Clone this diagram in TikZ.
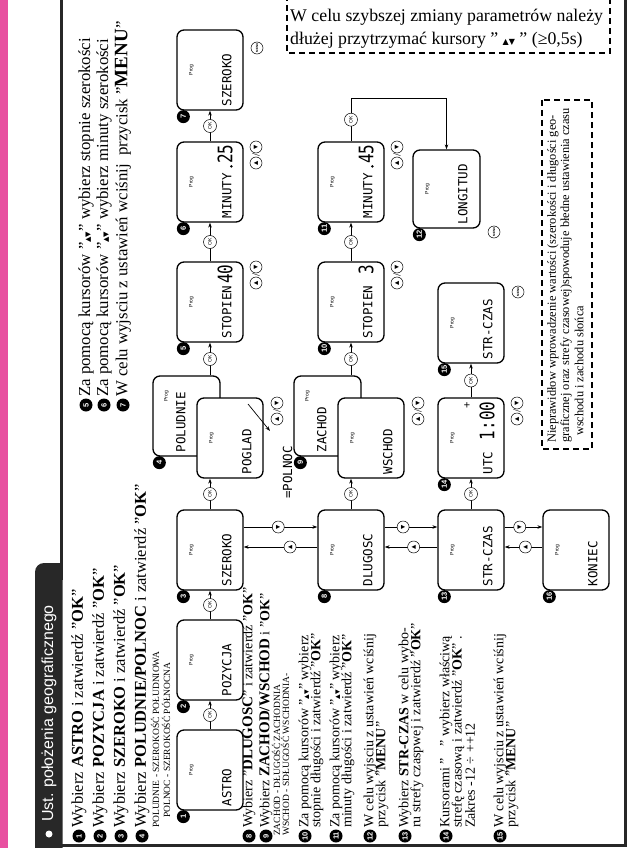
\documentclass[tikz,border=0pt]{standalone}
\usepackage{fontspec}
\setmainfont{Liberation Serif}
\newfontfamily\symf{DejaVu Sans}
\newfontfamily\lcdf[FakeStretch=1.0]{DejaVu Sans Mono}
\newfontfamily\lcdbf[FakeStretch=0.8]{DejaVu Sans Mono}
\newfontfamily\sansf{Liberation Sans}
\usetikzlibrary{arrows.meta,calc}
\definecolor{pinkbar}{RGB}{232,80,160}
\definecolor{framec}{RGB}{40,40,40}
\newcommand\mkbox[6]{%
  \node[lcd, minimum width=#4pt, minimum height=#5pt] (#1) at (#2,#3) {};
  \node[prog] (#1p) at ($(#1.west)+(15,0)$) {Prog};
  \node[lcdt] (#1t) at ($(#1.south west)+(55,-4)$) {#6};}
\newcommand\udpair[3]{%
  \node[udc] (#1a) at (#2,{#3+8}) {▲};
  \node[rotate=90, inner sep=0pt, font=\fontsize{11}{11}\selectfont] (#1s) at (#2,#3) {/};
  \node[udc] (#1b) at (#2,{#3-8}) {▼};}
\begin{document}
\begin{tikzpicture}[x=1pt,y=-1pt,
  lcd/.style={draw, rounded corners=7pt, line width=1.3pt, fill=white, inner sep=0pt},
  prog/.style={rotate=90, inner sep=0pt, font=\sansf\fontsize{5}{5}\selectfont},
  lcdt/.style={rotate=90, anchor=base west, inner sep=0pt, font=\lcdf\fontsize{12.5}{12.5}\selectfont},
  lcdbig/.style={rotate=90, anchor=base east, inner sep=0pt, font=\lcdbf\fontsize{20}{20}\selectfont},
  numc/.style={circle, fill=black, text=white, inner sep=0pt, minimum size=13pt, rotate=90, font=\sansf\bfseries\fontsize{7.5}{7.5}\selectfont},
  okc/.style={circle, draw, fill=white, line width=0.5pt, inner sep=0pt, minimum size=13pt, rotate=90, font=\sansf\fontsize{5}{5}\selectfont},
  udc/.style={circle, draw, fill=white, line width=0.5pt, inner sep=0pt, minimum size=12pt, rotate=90, font=\symf\fontsize{5.5}{5.5}\selectfont},
  menuc/.style={circle, draw, fill=white, line width=0.5pt, inner sep=0pt, minimum size=12pt, rotate=90, font=\sansf\bfseries\fontsize{3}{3}\selectfont},
  conn/.style={line width=0.7pt, -{Stealth[length=5pt,width=3.5pt]}},
  txt/.style={rotate=90, anchor=west, inner sep=0pt, font=\fontsize{16.5}{16.5}\selectfont},
  txtr/.style={rotate=90, anchor=west, inner sep=0pt, font=\fontsize{16.8}{16.8}\selectfont},
  txtm/.style={rotate=90, anchor=west, inner sep=0pt, font=\fontsize{14}{14}\selectfont},
  txts/.style={rotate=90, anchor=west, inner sep=0pt, font=\fontsize{9.5}{9.5}\selectfont},
  notet/.style={rotate=90, anchor=west, inner sep=0pt, font=\fontsize{12.4}{12.4}\selectfont},
  frameline/.style={draw=framec, line width=3pt},
  dashbox/.style={draw=black, line width=1.5pt, dash pattern=on 6pt off 4pt}
]
\useasboundingbox (0,0) rectangle (634,848);
% pink bar and frame
\fill[pinkbar] (0,0) rectangle (8,848);
\draw[frameline] (61,0) -- (61,566);
\draw[frameline] (35,845) -- (625,845) -- (625,0);
\fill[framec, rounded corners=9pt] (35,563) rectangle (62.5,875);
\fill[framec] (50,563) rectangle (62.5,580);
\node[circle, fill=white, inner sep=0pt, minimum size=7pt] (bul) at (49,834) {};
\node[rotate=90, anchor=west, text=white, inner sep=0pt, font=\sansf\fontsize{16}{16}\selectfont] (title) at (49,822) {Ust. położenia geograficznego};

% text block 1
\node[numc] (t1n) at (79,836) {1};
\node[txt] (t1) at (79,828) {Wybierz \textbf{ASTRO} i zatwierdź ''\textbf{OK}''};
\node[numc] (t2n) at (100,836) {2};
\node[txt] (t2) at (100,828) {Wybierz \textbf{POZYCJA} i zatwierdź ''\textbf{OK}''};
\node[numc] (t3n) at (121,836) {3};
\node[txt] (t3) at (121,828) {Wybierz \textbf{SZEROKO} i zatwierdź ''\textbf{OK}''};
\node[numc] (t4n) at (142,836) {4};
\node[txt] (t4) at (142,828) {Wybierz \textbf{POLUDNIE/POLNOC} i zatwierdź ''\textbf{OK}''};
\node[txts] (t4a) at (155,828) {POLUDNIE - SZEROKOŚĆ POŁUDNIOWA};
\node[txts] (t4b) at (166,818) {POLNOC - SZEROKOŚĆ PÓŁNOCNA};

% text block 2
\node[numc] (t5n) at (86,405) {5};
\node[txtr] (t5) at (86,397) {Za pomocą kursorów ''{\symf\fontsize{7}{7}\selectfont ▲▼}'' wybierz stopnie szerokości};
\node[numc] (t6n) at (104,405) {6};
\node[txtr] (t6) at (104,397) {Za pomocą kursorów ''{\symf\fontsize{7}{7}\selectfont ▲▼}'' wybierz minuty szerokości};
\node[numc] (t7n) at (123,405) {7};
\node[txtr] (t7) at (123,397) {W celu wyjsciu z ustawień wciśnij \ przycisk ''{\fontsize{19}{19}\selectfont\textbf{MENU}}''};

% text block 3
\node[numc] (t8n) at (249,836) {8};
\node[txtm] (t8) at (249,828) {Wybierz ''{\fontsize{15}{15}\selectfont\textbf{DLUGOSC}}'' i zatwierdź ''\textbf{OK}''};
\node[numc] (t9n) at (266,836) {9};
\node[txtm] (t9) at (266,828) {Wybierz {\fontsize{15}{15}\selectfont\textbf{ZACHOD/WSCHOD}} i ''\textbf{OK}''};
\node[txts] (t9a) at (276,836) {ZACHOD - DŁUGOŚĆ ZACHODNIA};
\node[txts] (t9b) at (285,836) {WSCHOD - SDŁUGOŚĆ WSCHODNIA-};
\node[numc] (t10n) at (305,836) {10};
\node[txtm] (t10) at (305,828) {Za pomocą kursorów ''{\symf\fontsize{6}{6}\selectfont ▲▼}'' wybierz};
\node[txtm] (t10b) at (317,828) {stopnie długości i zatwierdź ''\textbf{OK}''};
\node[numc] (t11n) at (336,836) {11};
\node[txtm] (t11) at (336,828) {Za pomocą kursorów ''{\symf\fontsize{6}{6}\selectfont ▲▼}'' wybierz};
\node[txtm] (t11b) at (348,828) {minuty długości i zatwierdź ''\textbf{OK}''};
\node[numc] (t12n) at (370,836) {12};
\node[txtm] (t12) at (370,828) {W celu wyjsciu z ustawień wciśnij};
\node[txtm] (t12b) at (382,828) {przycisk ''\textbf{MENU}''};
\node[numc] (t13n) at (405,836) {13};
\node[txtm] (t13) at (405,828) {Wybierz \textbf{STR-CZAS} w celu wybo-};
\node[txtm] (t13b) at (417,828) {ru strefy czaspwej i zatwierdź ''\textbf{OK}''};
\node[numc] (t14n) at (446,836) {14};
\node[txtm] (t14) at (446,828) {Kursorami ''\hspace{12pt}'' wybierz właściwą};
\node[txtm] (t14b) at (458,828) {strefę czasową i zatwierdź ''\textbf{OK}'' .};
\node[txtm] (t14c) at (470,828) {Zakres -12 ÷ ++12};
\node[numc] (t15n) at (500,836) {15};
\node[txtm] (t15) at (500,828) {W celu wyjsciu z ustawień wciśnij};
\node[txtm] (t15b) at (512,828) {przycisk ''\textbf{MENU}''};

% row 1 boxes
\mkbox{b1}{210}{770}{66}{80}{ASTRO}
\mkbox{b2}{210}{660}{66}{80}{POZYCJA}
\mkbox{b3}{210}{550}{66}{80}{SZEROKO}
\node[lcd, minimum width=67pt, minimum height=80pt] (b4b) at (186.5,416) {};
\node[prog] (b4bp) at ($(b4b.north west)+(14,21)$) {Prog};
\node[lcdt] (b4bt) at ($(b4b.south west)+(33,-4)$) {POLUDNIE};
\mkbox{b4f}{230}{438}{66}{80}{POGLAD}
\mkbox{b5}{210}{302}{66}{80}{STOPIEN}
\node[lcdbig] (b5d) at ($(b5.north west)+(56,3)$) {40};
\mkbox{b6}{210}{182}{66}{80}{MINUTY}
\node[lcdbig] (b6d) at ($(b6.north west)+(56,3)$) {25};
\fill ($(b6.north west)+(55,25)$) circle (1.4);
\mkbox{b7}{210}{70}{66}{80}{SZEROKO}

% row 2 boxes
\mkbox{d8}{351}{550}{66}{80}{DLUGOSC}
\node[lcd, minimum width=67pt, minimum height=80pt] (d9b) at (327.5,416) {};
\node[prog] (d9bp) at ($(d9b.north west)+(14,21)$) {Prog};
\node[lcdt] (d9bt) at ($(d9b.south west)+(33,-4)$) {ZACHOD};
\mkbox{d9f}{371}{438}{66}{80}{WSCHOD}
\mkbox{d10}{351}{302}{66}{80}{STOPIEN}
\node[lcdbig] (d10d) at ($(d10.north west)+(56,3)$) {3};
\mkbox{d11}{351}{182}{66}{80}{MINUTY}
\node[lcdbig] (d11d) at ($(d11.north west)+(56,3)$) {45};
\fill ($(d11.north west)+(55,25)$) circle (1.4);
\mkbox{d12}{446.5}{189}{67}{78}{LONGITUD}

% row 3 and 4 boxes
\mkbox{s13}{471}{550}{66}{80}{STR-CZAS}
\mkbox{s14}{471}{438}{66}{80}{UTC}
\node[lcdbig] (s14d) at ($(s14.north west)+(57,4)$) {1:00};
\node[rotate=90, inner sep=0pt, font=\sansf\fontsize{11}{11}\selectfont] (s14p) at ($(s14.north west)+(30,8)$) {+};
\mkbox{s15}{471}{323}{66}{80}{STR-CZAS}
\mkbox{k16}{576}{550}{66}{80}{KONIEC}

% OK connectors
\draw[conn] (b1.north) -- node[okc] (ok1) {OK} (b2.south);
\draw[conn] (b2.north) -- node[okc] (ok2) {OK} (b3.south);
\draw[conn] (b3.north) -- node[okc] (ok3) {OK} (b3.north |- b4f.south);
\draw[conn] (b5.south |- b4b.north) -- node[okc] (ok4) {OK} (b5.south);
\draw[conn] (b5.north) -- node[okc] (ok5) {OK} (b6.south);
\draw[conn] (b6.north) -- node[okc] (ok6) {OK} (b7.south);
\draw[conn] (d8.north) -- node[okc] (ok8) {OK} (d8.north |- d9f.south);
\draw[conn] (d10.south |- d9b.north) -- node[okc] (ok9) {OK} (d10.south);
\draw[conn] (d10.north) -- node[okc] (ok10) {OK} (d11.south);
\coordinate (r1) at (351,98);
\coordinate (r2) at (446.5,98);
\draw[conn] (d11.north) -- node[okc] (ok11) {OK} (r1) -- (r2) -- (d12.north);
\draw[conn] (s13.north) -- node[okc] (ok13) {OK} (s14.south);
\draw[conn] (s14.north) -- node[okc] (ok14) {OK} (s15.south);

% up/down connectors between rows
\coordinate (h1) at (0,527);
\coordinate (h2) at (0,547);
\draw[conn] (b3.east |- h1) -- node[udc, pos=0.47] (v1) {▼} (d8.west |- h1);
\draw[conn] (d8.west |- h2) -- node[udc, pos=0.37] (v2) {▲} (b3.east |- h2);
\draw[conn] (d8.east |- h1) -- node[udc, pos=0.35] (v3) {▼} (s13.west |- h1);
\draw[conn] (s13.west |- h2) -- node[udc, pos=0.45] (v4) {▲} (d8.east |- h2);
\draw[conn] (s13.east |- h1) -- node[udc, pos=0.4] (v5) {▼} (k16.west |- h1);
\draw[conn] (k16.west |- h2) -- node[udc, pos=0.45] (v6) {▲} (s13.east |- h2);

% numbers
\node[numc] (n1) at ($(b1.south west)+(7,6)$) {1};
\node[numc] (n2) at ($(b2.south west)+(7,6)$) {2};
\node[numc] (n3) at ($(b3.south west)+(7,6)$) {3};
\node[numc] (n4) at ($(b4b.south west)+(7,6)$) {4};
\node[numc] (n5) at ($(b5.south west)+(7,6)$) {5};
\node[numc] (n6) at ($(b6.south west)+(7,6)$) {6};
\node[numc] (n7) at ($(b7.south west)+(7,6)$) {7};
\node[numc] (n8) at ($(d8.south west)+(7,6)$) {8};
\node[numc] (n9) at ($(d9b.south west)+(7,6)$) {9};
\node[numc] (n10) at ($(d10.south west)+(7,6)$) {10};
\node[numc] (n11) at ($(d11.south west)+(7,6)$) {11};
\node[numc] (n12) at ($(d12.south west)+(7,6)$) {12};
\node[numc] (n13) at ($(s13.south west)+(7,6)$) {13};
\node[numc] (n14) at ($(s14.south west)+(7,6)$) {14};
\node[numc] (n15) at ($(s15.south west)+(7,6)$) {15};
\node[numc] (n16) at ($(k16.south west)+(7,6)$) {16};

% up/down labels
\udpair{u4}{277}{411}
\udpair{u5}{256}{275}
\udpair{u6}{256}{155}
\udpair{u9}{418}{411}
\udpair{u10}{397}{275}
\udpair{u11}{397}{155}
\udpair{u14}{517}{411}

% MENU icons
\node[menuc] (m7) at (257,48) {MENU};
\node[menuc] (m12) at (494,232) {MENU};
\node[menuc] (m15) at (518,292) {MENU};

% =POLNOC
\node[lcdt] (pn) at (292,499) {=POLNOC};
\coordinate (pa) at (248,404);
\coordinate (pb) at (270,431);
\draw[conn] (pa) -- (pb);

% notes
\draw[dashbox] (287,-5) rectangle (610,53);
\node[anchor=base west, inner sep=0pt, font=\fontsize{17.8}{17.8}\selectfont] (tn1) at (290,22) {W celu szybszej zmiany parametrów należy};
\node[anchor=base west, inner sep=0pt, font=\fontsize{17.8}{17.8}\selectfont] (tn2) at (290,45) {dłużej przytrzymać kursory '' {\symf\fontsize{8}{8}\selectfont ▲▼} '' (≥0,5s)};
\draw[dashbox] (542,100) rectangle (592,449);
\node[notet] (bn1) at (553,443) {Nieprawidłow wprowadzenie wartości (szerokości i długości geo-};
\node[notet] (bn2) at (566,443) {graficznej oraz strefy czasowej)spowoduje błedne ustawienia czasu};
\node[notet] (bn3) at (579,436) {wschodu i zachodu słońca};
\end{tikzpicture}
\end{document}
